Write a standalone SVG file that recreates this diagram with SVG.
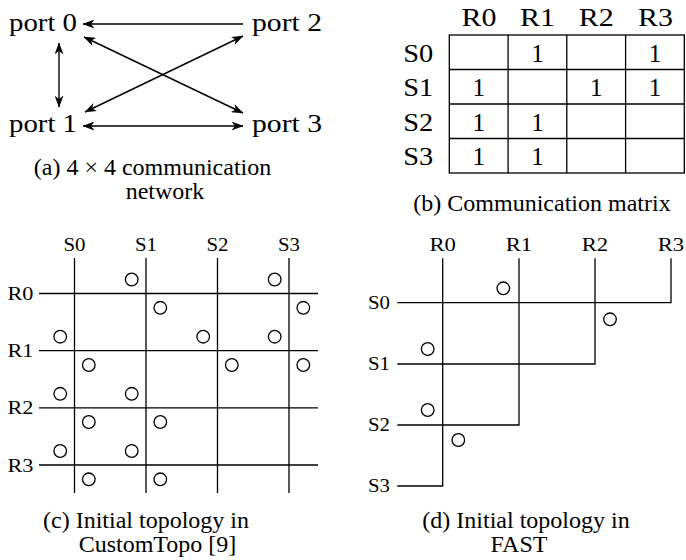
<svg xmlns="http://www.w3.org/2000/svg" width="686" height="560" viewBox="0 0 686 560">
<style>
text{font-family:"Liberation Serif","Times New Roman",serif;fill:#000}
.lab{font-size:25px}
.sm{font-size:18px}
.cap{font-size:24px;text-anchor:middle}
.mid{text-anchor:middle}
.ln{stroke:#000;stroke-width:1.3;fill:none}
.ar{stroke:#000;stroke-width:1.4;fill:none;marker-end:url(#ah);marker-start:url(#ah)}
.ar1{stroke:#000;stroke-width:1.4;fill:none;marker-end:url(#ah)}
.c{fill:#fff;stroke:#000;stroke-width:1.3}
</style>
<defs>
<marker id="ah" markerUnits="userSpaceOnUse" viewBox="0 0 12 9" refX="11.5" refY="4.5" markerWidth="12" markerHeight="9" orient="auto-start-reverse">
<path d="M0,0 L12,4.5 L0,9 L3.5,4.5 z" fill="#000"/>
</marker>
</defs>

<!-- (a) communication network -->
<g id="port0"><text class="lab" x="9" y="31" textLength="68" lengthAdjust="spacingAndGlyphs">port 0</text></g>
<g id="port1"><text class="lab" x="9" y="132" textLength="68" lengthAdjust="spacingAndGlyphs">port 1</text></g>
<g id="port2"><text class="lab" x="252" y="31" textLength="70" lengthAdjust="spacingAndGlyphs">port 2</text></g>
<g id="port3"><text class="lab" x="252" y="132" textLength="70" lengthAdjust="spacingAndGlyphs">port 3</text></g>
<g id="connectors">
<line class="ar1" x1="243" y1="24" x2="83" y2="24"/>
<line class="ar" x1="59" y1="43" x2="59" y2="107"/>
<line class="ar" x1="84" y1="37" x2="243" y2="113"/>
<line class="ar" x1="85" y1="112" x2="243" y2="36"/>
<line class="ar" x1="83" y1="126" x2="243" y2="126"/>
</g>
<g id="capA">
<text class="cap" x="152.5" y="175">(a) 4 × 4 communication</text>
<text class="cap" x="165" y="199">network</text>
</g>

<!-- (b) communication matrix -->
<g id="matrix">
<rect class="ln" x="449.3" y="35" width="235" height="138"/>
<path class="ln" d="M508.1,35V173M566.8,35V173M625.6,35V173M449.3,69.5H684.3M449.3,104H684.3M449.3,138.5H684.3"/>
<text class="lab" x="461.5" y="26" textLength="35" lengthAdjust="spacingAndGlyphs">R0</text>
<text class="lab" x="520" y="26" textLength="35" lengthAdjust="spacingAndGlyphs">R1</text>
<text class="lab" x="578.7" y="26" textLength="35" lengthAdjust="spacingAndGlyphs">R2</text>
<text class="lab" x="638" y="26" textLength="35" lengthAdjust="spacingAndGlyphs">R3</text>
<text class="lab" x="403.3" y="61.5" textLength="30" lengthAdjust="spacingAndGlyphs">S0</text>
<text class="lab" x="403.3" y="96" textLength="30" lengthAdjust="spacingAndGlyphs">S1</text>
<text class="lab" x="403.3" y="130.5" textLength="30" lengthAdjust="spacingAndGlyphs">S2</text>
<text class="lab" x="403.3" y="164.5" textLength="30" lengthAdjust="spacingAndGlyphs">S3</text>
<g class="lab mid">
<text x="537.4" y="61.5">1</text><text x="655" y="61.5">1</text>
<text x="478.7" y="96">1</text><text x="596.2" y="96">1</text><text x="655" y="96">1</text>
<text x="478.7" y="130.5">1</text><text x="537.4" y="130.5">1</text>
<text x="478.7" y="164.5">1</text><text x="537.4" y="164.5">1</text>
</g>
</g>
<g id="capB"><text class="cap" x="542" y="211">(b) Communication matrix</text></g>

<!-- (c) CustomTopo -->
<g id="gridC">
<path class="ln" d="M74.5,258V493M146,258V493M217.5,258V493M289,258V493M39,293.5H318M39,350.7H318M39,407.8H318M39,465H318"/>
<g class="sm">
<text x="63.5" y="251" textLength="22" lengthAdjust="spacingAndGlyphs">S0</text>
<text x="135" y="251" textLength="22" lengthAdjust="spacingAndGlyphs">S1</text>
<text x="206.5" y="251" textLength="22" lengthAdjust="spacingAndGlyphs">S2</text>
<text x="278" y="251" textLength="22" lengthAdjust="spacingAndGlyphs">S3</text>
<text x="7.5" y="300" textLength="26" lengthAdjust="spacingAndGlyphs">R0</text>
<text x="7.5" y="357.2" textLength="26" lengthAdjust="spacingAndGlyphs">R1</text>
<text x="7.5" y="414.3" textLength="26" lengthAdjust="spacingAndGlyphs">R2</text>
<text x="7.5" y="471.5" textLength="26" lengthAdjust="spacingAndGlyphs">R3</text>
</g>
<g class="c">
<circle cx="131.7" cy="279.5" r="6.3"/><circle cx="274.7" cy="279.5" r="6.3"/>
<circle cx="160.3" cy="307.8" r="6.3"/><circle cx="303.3" cy="307.8" r="6.3"/>
<circle cx="60.2" cy="336.7" r="6.3"/><circle cx="203.2" cy="336.7" r="6.3"/><circle cx="274.7" cy="336.7" r="6.3"/>
<circle cx="88.8" cy="365" r="6.3"/><circle cx="231.8" cy="365" r="6.3"/><circle cx="303.3" cy="365" r="6.3"/>
<circle cx="60.2" cy="393.8" r="6.3"/><circle cx="131.7" cy="393.8" r="6.3"/>
<circle cx="88.8" cy="422" r="6.3"/><circle cx="160.3" cy="422" r="6.3"/>
<circle cx="60.2" cy="451" r="6.3"/><circle cx="131.7" cy="451" r="6.3"/>
<circle cx="88.8" cy="479.3" r="6.3"/><circle cx="160.3" cy="479.3" r="6.3"/>
</g>
</g>
<g id="capC">
<text class="cap" x="146" y="527.5">(c) Initial topology in</text>
<text class="cap" x="157.5" y="551.5">CustomTopo [9]</text>
</g>

<!-- (d) FAST -->
<g id="gridD">
<path class="ln" d="M397.3,302.7H671V258.3M397.3,364H595V258.3M397.3,425H519V258.3M397.3,486H442.7V258.3"/>
<g class="sm">
<text x="429.4" y="251" textLength="26.5" lengthAdjust="spacingAndGlyphs">R0</text>
<text x="505.7" y="251" textLength="26.5" lengthAdjust="spacingAndGlyphs">R1</text>
<text x="581.7" y="251" textLength="26.5" lengthAdjust="spacingAndGlyphs">R2</text>
<text x="657.7" y="251" textLength="26.5" lengthAdjust="spacingAndGlyphs">R3</text>
<text x="368" y="309" textLength="22" lengthAdjust="spacingAndGlyphs">S0</text>
<text x="368" y="370.3" textLength="22" lengthAdjust="spacingAndGlyphs">S1</text>
<text x="368" y="431.3" textLength="22" lengthAdjust="spacingAndGlyphs">S2</text>
<text x="368" y="492.3" textLength="22" lengthAdjust="spacingAndGlyphs">S3</text>
</g>
<g class="c">
<circle cx="503.3" cy="288.3" r="6.3"/><circle cx="610" cy="319.3" r="6.3"/>
<circle cx="427.7" cy="349" r="6.3"/><circle cx="427.7" cy="410" r="6.3"/><circle cx="458.3" cy="440" r="6.3"/>
</g>
</g>
<g id="capD">
<text class="cap" x="526" y="527.5">(d) Initial topology in</text>
<text class="cap" x="519" y="551.5">FAST</text>
</g>
</svg>
